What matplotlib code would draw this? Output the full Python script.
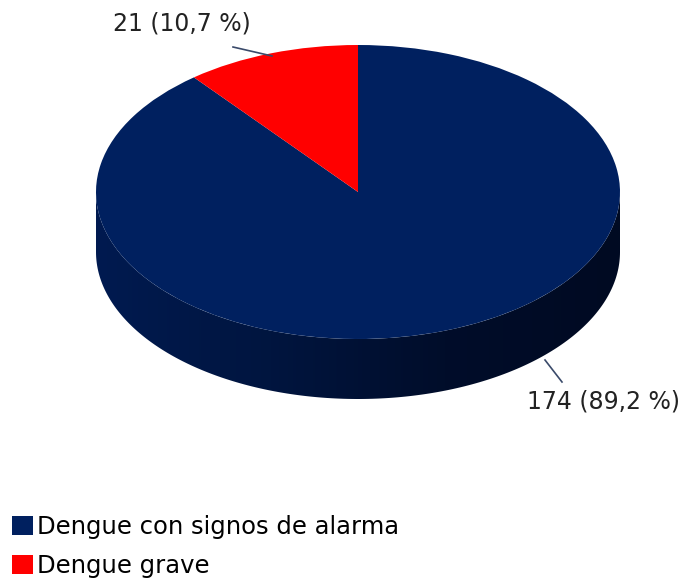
import matplotlib
matplotlib.use("Agg")
import matplotlib.pyplot as plt
import numpy as np
from matplotlib.patches import Patch, Polygon
from matplotlib.colors import LinearSegmentedColormap

categories = ["Dengue con signos de alarma", "Dengue grave"]
values = [174, 21]
labels = ["174 (89,2 %)", "21 (10,7 %)"]
top_colors = ["#00205f", "#ff0000"]

W, H = 690, 579
fig = plt.figure(figsize=(W / 100, H / 100), dpi=100)
ax = fig.add_axes([0, 0, 1, 1])

# ellipse geometry in pixels
cx, cy, rx, ry, depth = 358, 192, 262, 147, 60
d = depth / ry

# side (depth) with gradient
t = np.linspace(np.pi, 2 * np.pi, 200)
xs = np.cos(t)
ys = np.sin(t)
side = np.concatenate([np.column_stack([xs, ys - d]),
                       np.column_stack([xs[::-1], ys[::-1]])])
poly = Polygon(side, closed=True, facecolor="none", edgecolor="none")
ax.add_patch(poly)
grad = np.linspace(0, 1, 256).reshape(1, -1)
cmap = LinearSegmentedColormap.from_list("side", ["#001a50", "#00153f", "#000d2a", "#000a22"])
im = ax.imshow(grad, extent=[-1, 1, -1 - d, 0], cmap=cmap, aspect="auto", zorder=1)
im.set_clip_path(poly)

# top face
wedges, _ = ax.pie(values, colors=top_colors, startangle=90, counterclock=False,
                   radius=1, center=(0, 0), frame=True,
                   wedgeprops=dict(linewidth=0, zorder=3))
ax.set_xlim(-cx / rx, (W - cx) / rx)
ax.set_ylim(-(H - cy) / ry, cy / ry)
ax.set_aspect("auto")
ax.axis("off")

def px(x, y):
    return ((x - cx) / rx, (cy - y) / ry)

# labels with leader lines
ax.plot(*zip(px(545, 360), px(562, 382)), color="#3a4a6a", lw=1.2, zorder=4)
ax.text(*px(527, 401), labels[0], fontsize=17, color="#222222", va="center", ha="left")
ax.plot(*zip(px(233, 47), px(272, 56)), color="#3a4a6a", lw=1.2, zorder=4)
ax.text(*px(113, 24), labels[1], fontsize=17, color="#222222", va="center", ha="left")

handles = [Patch(facecolor=c, edgecolor="none") for c in top_colors]
fig.legend(handles, categories, loc="upper left", bbox_to_anchor=(12 / W, 1 - 515 / H),
           frameon=False, fontsize=17.5, handlelength=0.86, handleheight=0.86,
           handletextpad=0.16, labelspacing=0.62, borderpad=0, borderaxespad=0)

fig.savefig("out.png", dpi=100)
